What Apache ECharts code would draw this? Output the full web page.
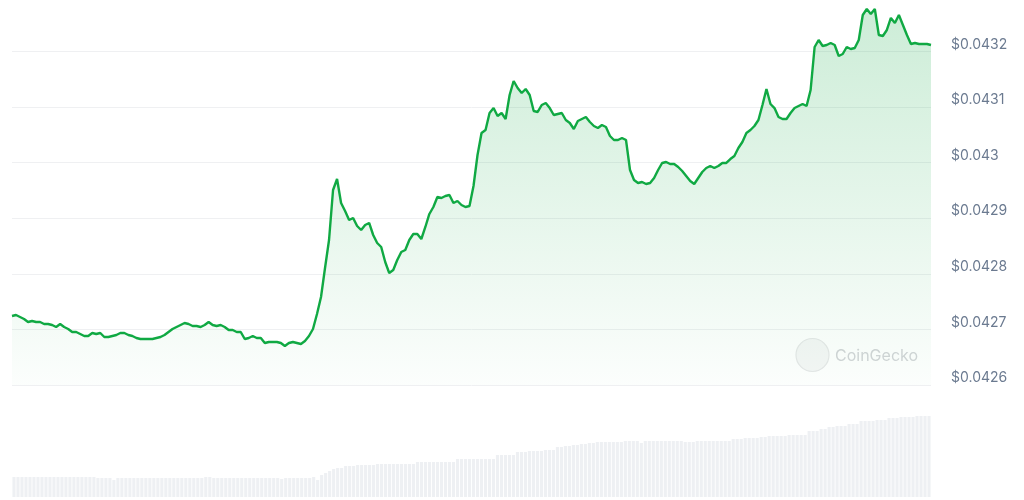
<!DOCTYPE html>
<html>
<head>
<meta charset="utf-8">
<script src="https://cdn.jsdelivr.net/npm/echarts@6/dist/echarts.min.js"></script>
<style>
html,body{margin:0;padding:0;background:#fff;}
#chart{width:1024px;height:500px;}
</style>
</head>
<body>
<div id="chart"></div>
<script>
// Price (USD) over the day, one point per step
const prices = [
0.0427241,0.0427259,0.0427223,0.0427187,0.0427133,0.0427151,0.0427133,0.0427133,0.0427097,0.0427097,
0.0427079,0.0427043,0.0427097,0.0427043,0.0427007,0.0426953,0.0426953,0.0426917,0.0426881,0.0426881,
0.0426935,0.0426917,0.0426935,0.0426863,0.0426863,0.0426881,0.0426899,0.0426935,0.0426935,0.0426899,
0.0426881,0.0426845,0.0426827,0.0426827,0.0426827,0.0426827,0.0426845,0.0426863,0.0426899,0.0426953,
0.0427007,0.0427043,0.0427079,0.0427115,0.0427097,0.0427061,0.0427061,0.0427043,0.0427079,0.0427133,
0.0427079,0.0427061,0.0427079,0.0427043,0.0426989,0.0426989,0.0426953,0.0426953,0.0426827,0.0426845,
0.0426881,0.0426845,0.0426845,0.0426755,0.0426773,0.0426773,0.0426773,0.0426755,0.0426701,0.0426755,
0.0426773,0.0426755,0.0426737,0.0426791,0.0426881,0.0427007,0.0427277,0.0427582,0.0428104,0.0428607,
0.0429506,0.0429704,0.0429272,0.0429129,0.0428967,0.0429003,0.0428859,0.0428787,0.0428877,0.0428913,
0.0428697,0.0428553,0.0428481,0.0428212,0.0428014,0.0428068,0.0428248,0.0428391,0.0428427,0.0428607,
0.0428715,0.0428715,0.0428625,0.0428841,0.0429075,0.0429200,0.0429380,0.0429362,0.0429398,0.0429416,
0.0429272,0.0429308,0.0429236,0.0429200,0.0429218,0.0429578,0.0430135,0.0430531,0.0430585,0.0430891,
0.0430980,0.0430837,0.0430891,0.0430783,0.0431214,0.0431466,0.0431340,0.0431250,0.0431322,0.0431214,
0.0430927,0.0430909,0.0431034,0.0431070,0.0430980,0.0430855,0.0430873,0.0430891,0.0430765,0.0430711,
0.0430603,0.0430747,0.0430783,0.0430819,0.0430729,0.0430657,0.0430621,0.0430675,0.0430639,0.0430477,
0.0430405,0.0430405,0.0430441,0.0430405,0.0429866,0.0429686,0.0429632,0.0429650,0.0429614,0.0429632,
0.0429722,0.0429866,0.0429992,0.0430010,0.0429974,0.0429974,0.0429920,0.0429848,0.0429758,0.0429668,
0.0429614,0.0429722,0.0429830,0.0429902,0.0429938,0.0429902,0.0429938,0.0429992,0.0429992,0.0430063,
0.0430117,0.0430261,0.0430369,0.0430531,0.0430585,0.0430657,0.0430765,0.0431034,0.0431322,0.0431052,
0.0430980,0.0430819,0.0430783,0.0430783,0.0430891,0.0430980,0.0431016,0.0431052,0.0431016,0.0431304,
0.0432077,0.0432203,0.0432095,0.0432113,0.0432149,0.0432113,0.0431915,0.0431951,0.0432077,0.0432041,
0.0432059,0.0432203,0.0432653,0.0432760,0.0432671,0.0432760,0.0432293,0.0432275,0.0432383,0.0432599,
0.0432509,0.0432653,0.0432473,0.0432293,0.0432131,0.0432149,0.0432131,0.0432131,0.0432131,0.0432113
];

// Rolling volume bars (relative units), one per step
const volumes = [
20,20,20,20,20,20,20,20,20,20,20,20,20,20,20,20,20,20,20,20,
20,19,19,19,19,17,19,19,19,19,19,19,19,19,19,19,19,19,19,19,
19,19,19,19,19,19,19,19,20,20,19,19,19,19,19,19,19,19,19,19,
19,19,19,19,19,19,19,18,19,19,19,19,19,19,19,20,17,22,24,26,
28,29,29,31,31,31,32,32,32,32,32,33,33,33,33,33,33,33,33,33,
33,35,35,35,35,35,35,35,35,35,35,38,38,38,38,38,38,38,38,38,
38,42,42,42,42,42,45,45,45,46,46,46,46,47,47,47,50,50,51,51,
52,52,53,53,54,54,55,55,55,55,55,55,55,56,56,56,56,54,56,56,
56,56,56,56,56,56,56,56,55,55,55,56,56,56,56,56,56,56,56,56,
58,58,58,59,59,59,59,60,60,61,61,61,61,61,62,62,62,62,62,66,
66,66,68,68,70,70,71,71,71,73,73,73,76,76,76,76,77,77,77,79,
79,79,80,80,80,80,81,81,81,81
];

// Y-axis tick values (gridlines + labels)
const priceTicks = [0.0426, 0.0427, 0.0428, 0.0429, 0.0430, 0.0431, 0.0432];

const categories = prices.map((_, i) => i);

const chart = echarts.init(document.getElementById('chart'), null, {renderer: 'canvas'});

// price scale: 0.0426 at y=385 and 0.0432 at y=51.3; the plot reaches up to the canvas top
const priceMin = priceTicks[0];
const priceMax = 0.04329223;

const option = {
  animation: false,
  backgroundColor: '#ffffff',
  grid: [
    {left: 12, right: 93, top: 0, height: 385},          // price line
    {left: 12, right: 93, top: 397, bottom: 3},          // volume bars
    {left: 12, right: 93, top: 51.3, height: 333.7}      // tick labels + gridlines (same scale)
  ],
  xAxis: [
    {type: 'category', gridIndex: 0, data: categories, boundaryGap: false, show: false},
    {type: 'category', gridIndex: 1, data: categories, boundaryGap: true, show: false},
    {type: 'category', gridIndex: 2, data: categories, boundaryGap: false, show: false}
  ],
  yAxis: [
    {type: 'value', gridIndex: 0, min: priceMin, max: priceMax, show: false},
    {type: 'value', gridIndex: 1, min: 0, max: 100, show: false},
    {type: 'value', gridIndex: 2, position: 'right',
     min: priceTicks[0], max: priceTicks[priceTicks.length - 1], interval: 0.0001,
     axisLine: {show: false}, axisTick: {show: false},
     splitLine: {show: true, lineStyle: {color: '#eff0f2', width: 1}},
     axisLabel: {
       margin: 20, align: 'left', verticalAlign: 'bottom',
       color: '#6b7a90', fontSize: 14, fontFamily: 'Inter, "Noto Sans", sans-serif',
       formatter: v => '$' + String(+(+v).toFixed(4))
     }}
  ],
  graphic: [
    {type: 'circle', shape: {cx: 812.5, cy: 355, r: 16.5},
     style: {fill: '#f5f6f6', stroke: '#e6e7e8', lineWidth: 1.2}, z: 1},
    {type: 'text', x: 835, y: 356,
     style: {text: 'CoinGecko', fill: '#d3d5d8', font: '16px Inter, "Noto Sans", sans-serif',
             textVerticalAlign: 'middle', verticalAlign: 'middle'}, z: 1}
  ],
  series: [
    {type: 'bar', xAxisIndex: 1, yAxisIndex: 1, data: volumes,
     barCategoryGap: '22%', itemStyle: {color: '#eef0f3'}, silent: true},
    {type: 'line', xAxisIndex: 0, yAxisIndex: 0, data: prices,
     showSymbol: false, symbol: 'none', smooth: false,
     lineStyle: {color: '#10a943', width: 2.4},
     areaStyle: {
       origin: 'start',
       color: new echarts.graphic.LinearGradient(0, 0, 0, 1, [
         {offset: 0, color: 'rgba(16,169,67,0.30)'},
         {offset: 1, color: 'rgba(16,169,67,0.02)'}
       ])
     },
     z: 3}
  ]
};

chart.setOption(option);
</script>
</body>
</html>
